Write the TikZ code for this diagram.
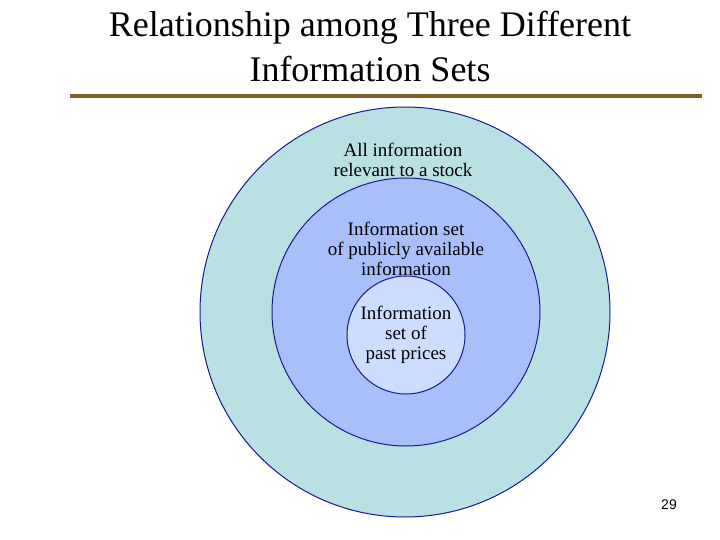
\documentclass[tikz,border=0pt]{standalone}
\usepackage{fontspec}
\setmainfont{Liberation Serif}
\setsansfont{Liberation Sans}
\definecolor{outerc}{HTML}{B9E0E3}
\definecolor{midc}{HTML}{A9BFFA}
\definecolor{innc}{HTML}{CCDDFF}
\definecolor{edgec}{HTML}{1A1A90}
\definecolor{rulec}{HTML}{7F5F2A}
\begin{document}
\begin{tikzpicture}[x=1pt,y=-1pt,
  ring/.style={circle,draw=edgec,line width=1pt,inner sep=0pt},
  lab/.style={align=center,font=\fontsize{19}{20}\selectfont}]
\useasboundingbox (0,0) rectangle (720,540);
\node[ring,fill=outerc,minimum size=410pt] (outer) at (405,312) {};
\node[ring,fill=midc,minimum size=268pt] (mid) at (406,312) {};
\node[ring,fill=innc,minimum size=118pt] (inn) at (406,335) {};
\node[lab] (t1) at (403,160) {All information\\relevant to a stock};
\node[lab] (t2) at (406,249) {Information set\\of publicly available\\information};
\node[lab] (t3) at (406,335) {Information\\set of\\past prices};
\node[align=center,font=\fontsize{36}{45}\selectfont] (title) at (370,47) {Relationship among Three Different\\Information Sets};
\coordinate (r1) at (70,96);
\coordinate (r2) at (702,96);
\draw[rulec,line width=4pt] (r1) -- (r2);
\node[font=\sffamily\fontsize{14}{16}\selectfont] (pg) at (669,505) {29};
\end{tikzpicture}
\end{document}
